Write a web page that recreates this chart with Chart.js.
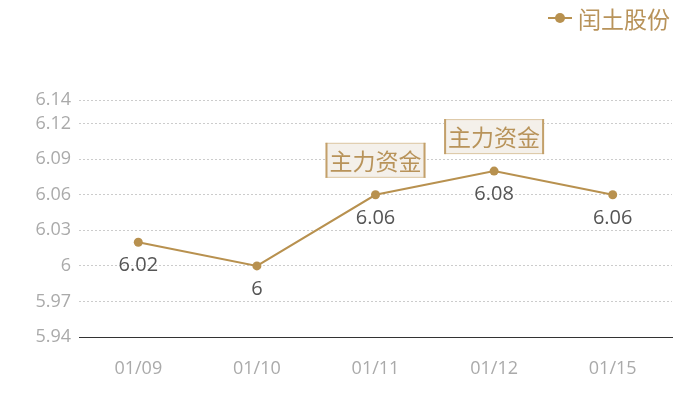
<!DOCTYPE html>
<html>
<head>
<meta charset="utf-8">
<script src="https://cdn.jsdelivr.net/npm/chart.js@4/dist/chart.umd.min.js"></script>
<style>
html,body{margin:0;padding:0;background:#fff;}
#wrap{width:700px;height:400px;position:relative;}
</style>
</head>
<body>
<div id="wrap"><canvas id="c"></canvas></div>
<script>
const categories = ["01/09", "01/10", "01/11", "01/12", "01/15"];
const seriesName = "闰土股份";
const values = [6.02, 6.00, 6.06, 6.08, 6.06];
const annotations = ["", "", "主力资金", "主力资金", ""];
const yTicks = [5.94, 5.97, 6.00, 6.03, 6.06, 6.09, 6.12, 6.14];

const GOLD = "#b8914f";
const TEXT_GOLD = "#b8935a";
const FONT = "'Open Sans', 'Noto Sans CJK SC', sans-serif";
const CJK = "'Noto Sans CJK SC', sans-serif";

const overlay = {
  id: "overlay",
  afterDatasetsDraw(chart) {
    const ctx = chart.ctx;
    const meta = chart.getDatasetMeta(0);
    ctx.save();
    // data labels
    ctx.font = "20px " + FONT;
    ctx.fillStyle = "#555555";
    ctx.textAlign = "center";
    ctx.textBaseline = "middle";
    meta.data.forEach((pt, i) => {
      ctx.fillText(String(values[i]), pt.x, pt.y + 23);
    });
    // annotations
    ctx.font = "23px " + CJK;
    meta.data.forEach((pt, i) => {
      const t = annotations[i];
      if (!t) return;
      const w = ctx.measureText(t).width + 8;
      const h = 35;
      const x0 = pt.x - w / 2;
      const y1 = pt.y - 17;
      const y0 = y1 - h;
      ctx.fillStyle = "#f4f0ea";
      ctx.fillRect(x0, y0, w, h);
      ctx.fillStyle = "#dcc7a3";
      ctx.fillRect(x0, y0, w, 1);
      ctx.fillRect(x0, y1 - 1, w, 1);
      ctx.fillStyle = "#c3a06a";
      ctx.fillRect(x0, y0, 2, h);
      ctx.fillRect(x0 + w - 2, y0, 2, h);
      ctx.fillStyle = TEXT_GOLD;
      ctx.fillText(t, pt.x, (y0 + y1) / 2 + 1);
    });
    // legend
    const ly = 18;
    ctx.strokeStyle = GOLD;
    ctx.lineWidth = 2;
    ctx.beginPath();
    ctx.moveTo(548, ly);
    ctx.lineTo(572, ly);
    ctx.stroke();
    ctx.fillStyle = GOLD;
    ctx.beginPath();
    ctx.arc(560, ly, 5, 0, Math.PI * 2);
    ctx.fill();
    ctx.font = "23px " + CJK;
    ctx.textAlign = "left";
    ctx.fillStyle = TEXT_GOLD;
    ctx.fillText(seriesName, 578, ly + 1);
    ctx.restore();
  }
};

new Chart(document.getElementById("c"), {
  type: "line",
  data: {
    labels: categories,
    datasets: [{
      label: seriesName,
      data: values,
      borderColor: GOLD,
      backgroundColor: GOLD,
      borderWidth: 2,
      pointRadius: 4.5,
      pointHoverRadius: 4.5,
      pointBackgroundColor: GOLD,
      pointBorderWidth: 0,
      tension: 0
    }]
  },
  options: {
    responsive: true,
    maintainAspectRatio: false,
    animation: false,
    layout: { padding: { top: 100, right: 28, bottom: 0, left: 0 } },
    plugins: { legend: { display: false }, tooltip: { enabled: false } },
    scales: {
      x: {
        offset: true,
        grid: { display: false, drawTicks: false },
        border: { display: true, color: "#333333", width: 1 },
        ticks: { color: "#aaaaaa", font: { family: FONT, size: 18 }, padding: 21 },
        afterFit(scale) { scale.height = 63; }
      },
      y: {
        min: 5.94,
        max: 6.14,
        grid: { color: "#cccccc", drawTicks: false, lineWidth: 1 },
        border: { display: false, dash: [2, 2] },
        afterBuildTicks(scale) { scale.ticks = yTicks.map(v => ({ value: v })); },
        ticks: {
          color: "#aaaaaa",
          font: { family: FONT, size: 18 },
          padding: 8,
          callback: (v) => String(+v.toFixed(2))
        },
        afterFit(scale) { scale.width = 79; }
      }
    }
  },
  plugins: [overlay]
});
</script>
</body>
</html>
